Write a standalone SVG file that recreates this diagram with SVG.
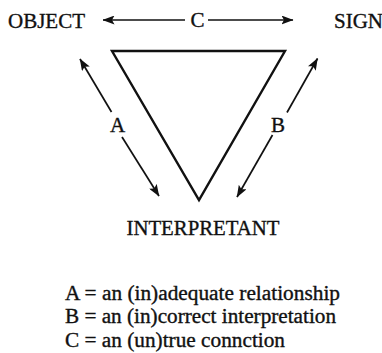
<svg xmlns="http://www.w3.org/2000/svg" width="382" height="353" viewBox="0 0 382 353">
<defs>
<marker id="ah" viewBox="0 0 12 9" refX="11.5" refY="4.5" markerWidth="12" markerHeight="9" markerUnits="userSpaceOnUse" orient="auto-start-reverse">
<path d="M0,0 L12,4.5 L0,9 L2.5,4.5 Z" fill="#111"/>
</marker>
</defs>
<style>
text{font-family:"Liberation Serif","Times New Roman",serif;fill:#111;stroke:#111;stroke-width:0.35}
.lbl{font-size:21px}
.leg{font-size:20px}
.ln{stroke:#111;stroke-width:1.7;fill:none}
.tri{stroke:#111;stroke-width:2.4;fill:none;stroke-linejoin:miter}
</style>
<rect width="382" height="353" fill="#fff"/>
<g id="object"><text class="lbl" font-family="Liberation Serif, serif" x="8" y="28" textLength="77" lengthAdjust="spacingAndGlyphs">OBJECT</text></g>
<g id="sign"><text class="lbl" font-family="Liberation Serif, serif" x="334" y="28">SIGN</text></g>
<g id="interpretant"><text class="lbl" font-family="Liberation Serif, serif" x="203" y="235" text-anchor="middle" textLength="153" lengthAdjust="spacingAndGlyphs">INTERPRETANT</text></g>
<g id="triangle"><path class="tri" d="M112,51 L285,51 L199,200 Z"/></g>
<g id="connectors">
<line class="ln" x1="185" y1="20" x2="103" y2="20" marker-end="url(#ah)"/>
<line class="ln" x1="208" y1="20" x2="293" y2="20" marker-end="url(#ah)"/>
<text class="lbl" font-family="Liberation Serif, serif" x="197.5" y="27" text-anchor="middle">C</text>
<line class="ln" x1="111.5" y1="112" x2="80" y2="59" marker-end="url(#ah)"/>
<line class="ln" x1="122" y1="137" x2="159" y2="196" marker-end="url(#ah)"/>
<text class="lbl" font-family="Liberation Serif, serif" x="117.5" y="132" text-anchor="middle">A</text>
<line class="ln" x1="287" y1="112.5" x2="317.5" y2="58.5" marker-end="url(#ah)"/>
<line class="ln" x1="272.5" y1="135" x2="237" y2="197" marker-end="url(#ah)"/>
<text class="lbl" font-family="Liberation Serif, serif" x="278" y="132" text-anchor="middle">B</text>
</g>
<g id="legend">
<text class="leg" font-family="Liberation Serif, serif" x="65" y="300" textLength="275" lengthAdjust="spacingAndGlyphs">A = an (in)adequate relationship</text>
<text class="leg" font-family="Liberation Serif, serif" x="65" y="323.3" textLength="271" lengthAdjust="spacingAndGlyphs">B = an (in)correct interpretation</text>
<text class="leg" font-family="Liberation Serif, serif" x="65" y="346.7" textLength="220" lengthAdjust="spacingAndGlyphs">C = an (un)true connction</text>
</g>
</svg>
